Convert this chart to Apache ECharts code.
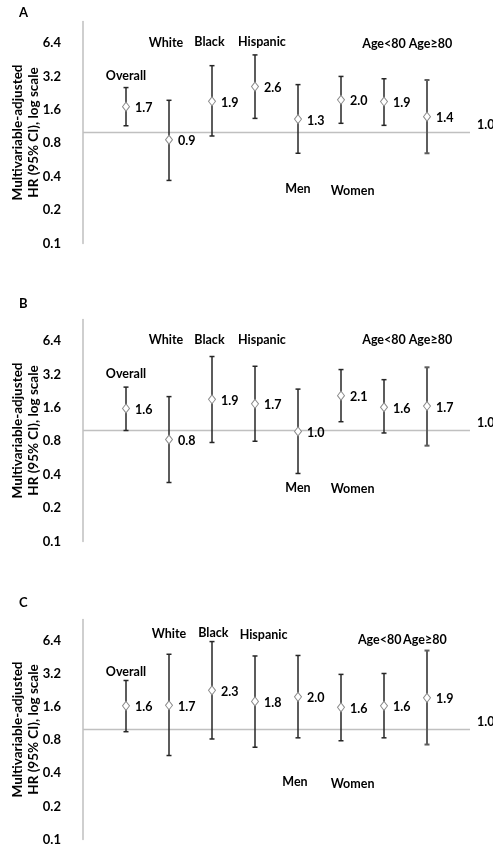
<!DOCTYPE html>
<html><head><meta charset="utf-8">
<script src="https://cdn.jsdelivr.net/npm/echarts@6/dist/echarts.min.js"></script>
<style>html,body{margin:0;padding:0;background:#fff}#c{width:493px;height:848px}</style>
</head><body><div id="c"></div>
<script>
// ---- data ----
const categories = ['Overall', 'White', 'Black', 'Hispanic', 'Men', 'Women', 'Age<80', 'Age\u226580'];
const tickLabels = ['0.1', '0.2', '0.4', '0.8', '1.6', '3.2', '6.4'];
const refValue = 1.0;

// Panel A
const hrA = [1.71, 0.86, 1.91, 2.59, 1.32, 1.97, 1.90, 1.39];
const loA = [1.15, 0.37, 0.93, 1.34, 0.65, 1.21, 1.16, 0.65];
const hiA = [2.54, 1.95, 4.00, 5.00, 2.70, 3.20, 3.05, 2.97];
// Panel B
const hrB = [1.58, 0.83, 1.91, 1.74, 0.98, 2.06, 1.62, 1.66];
const loB = [1.00, 0.34, 0.78, 0.80, 0.41, 1.20, 0.95, 0.73];
const hiB = [2.46, 2.02, 4.64, 3.79, 2.36, 3.54, 2.87, 3.71];
// Panel C
const hrC = [1.64, 1.66, 2.27, 1.80, 1.98, 1.59, 1.64, 1.94];
const loC = [0.955, 0.58, 0.82, 0.69, 0.84, 0.79, 0.84, 0.73];
const hiC = [2.79, 4.83, 6.30, 4.66, 4.71, 3.17, 3.23, 5.22];

// ---- layout (category-label placement, in HR units / category offsets) ----
const labelYA = [3.21, 6.4, 6.5, 6.5, 0.31, 0.30, 6.3, 6.3];
const labelYB = [3.26, 6.55, 6.55, 6.55, 0.305, 0.30, 6.5, 6.5];
const labelYC = [3.3, 7.34, 7.5, 7.2, 0.33, 0.32, 6.48, 6.5];
const labelDXAB = [0, -0.07, -0.06, 0.16, 0, 0.27, 0, 0.08];
const labelDXC = [0, 0, 0.03, 0.2, -0.07, 0.27, -0.1, -0.05];
const barColors = ['#262626', '#262626', '#262626', '#262626', '#262626', '#262626', '#262626', '#5e5e5e'];
const barWidths = [1.5, 1.5, 1.5, 1.5, 1.5, 1.5, 1.5, 2];

const FONT = 'Lato, "Open Sans", sans-serif';
const AXIS_MIN = 0.1, AXIS_MAX = 10;
const t = v => Math.log2(v / AXIS_MIN);

const panels = [
  {letter: 'A', hr: hrA, lo: loA, hi: hiA, labY: labelYA, labDX: labelDXAB, top: 21.5, height: 222, ly: 6},
  {letter: 'B', hr: hrB, lo: loB, hi: hiB, labY: labelYB, labDX: labelDXAB, top: 319.5, height: 222, ly: 297},
  {letter: 'C', hr: hrC, lo: loC, hi: hiC, labY: labelYC, labDX: labelDXC, top: 619.5, height: 220, ly: 596}
];

const grid = [], xAxis = [], yAxis = [], series = [], graphic = [];
panels.forEach((p, k) => {
  grid.push({left: 83, width: 387, top: p.top, height: p.height, containLabel: false, outerBoundsMode: 'none'});
  xAxis.push({type: 'value', gridIndex: k, min: 0, max: categories.length + 1, show: false});
  yAxis.push({
    type: 'value', gridIndex: k, min: 0, max: t(AXIS_MAX), interval: 1,
    axisLine: {show: true, lineStyle: {color: '#bfbfbf', width: 1.5}},
    axisTick: {show: false}, splitLine: {show: false},
    axisLabel: {
      margin: 22, color: '#000', fontFamily: FONT, fontWeight: 'bold', fontSize: 13,
      showMaxLabel: false,
      formatter: v => { const i = Math.round(v); return Math.abs(v - i) < 1e-6 && tickLabels[i] ? tickLabels[i] : ''; }
    },
    name: 'Multivariable-adjusted\nHR (95% CI), log scale',
    nameLocation: 'middle', nameRotate: 90, nameGap: 41, nameMoveOverlap: false,
    nameTextStyle: {color: '#000', fontFamily: FONT, fontWeight: 'bold', fontSize: 13.5, lineHeight: 16}
  });
  // reference line at HR = 1.0
  series.push({
    type: 'line', xAxisIndex: k, yAxisIndex: k, silent: true, symbol: 'none', z: 1,
    data: [[0, t(refValue)], [categories.length + 1, t(refValue)]],
    lineStyle: {color: '#c0c0c0', width: 1.5}
  });
  // error bars
  series.push({
    type: 'custom', xAxisIndex: k, yAxisIndex: k, silent: true, z: 2,
    data: categories.map((c, i) => [i + 1, t(p.lo[i]), t(p.hi[i])]),
    renderItem: (params, api) => {
      const x = api.value(0);
      const a = api.coord([x, api.value(1)]);
      const b = api.coord([x, api.value(2)]);
      const st = {stroke: barColors[params.dataIndex], lineWidth: barWidths[params.dataIndex]};
      const w = 2.5;
      return {type: 'group', children: [
        {type: 'line', shape: {x1: a[0], y1: a[1], x2: b[0], y2: b[1]}, style: st},
        {type: 'line', shape: {x1: a[0] - w, y1: a[1], x2: a[0] + w, y2: a[1]}, style: st},
        {type: 'line', shape: {x1: b[0] - w, y1: b[1], x2: b[0] + w, y2: b[1]}, style: st}
      ]};
    }
  });
  // point estimates
  series.push({
    type: 'scatter', xAxisIndex: k, yAxisIndex: k, silent: true, z: 3,
    data: categories.map((c, i) => [i + 1, t(p.hr[i]), p.hr[i]]),
    symbol: 'diamond', symbolSize: [7, 9],
    itemStyle: {color: '#fff', borderColor: '#8c8c8c', borderWidth: 1, opacity: 1},
    label: {
      show: true, position: 'right', distance: 5, offset: [0, 1.5],
      formatter: q => q.data[2].toFixed(1),
      color: '#000', fontFamily: FONT, fontWeight: 'bold', fontSize: 12.5
    }
  });
  // category labels
  series.push({
    type: 'custom', xAxisIndex: k, yAxisIndex: k, silent: true, z: 4, clip: false,
    data: categories.map((c, i) => [i + 1 + p.labDX[i], t(p.labY[i])]),
    renderItem: (params, api) => {
      const c = api.coord([api.value(0), api.value(1)]);
      return {type: 'text', x: c[0], y: c[1], style: {
        text: categories[params.dataIndex], align: 'center', verticalAlign: 'middle',
        fill: '#000', font: 'bold 12.5px ' + FONT
      }};
    }
  });
  // "1.0" label at right end of reference line
  series.push({
    type: 'custom', xAxisIndex: k, yAxisIndex: k, silent: true, z: 4, clip: false,
    data: [[categories.length + 1, t(refValue)]],
    renderItem: (params, api) => {
      const c = api.coord([api.value(0), api.value(1)]);
      return {type: 'text', x: c[0] + 7, y: c[1] - 8, style: {
        text: refValue.toFixed(1), align: 'left', verticalAlign: 'middle',
        fill: '#000', font: 'bold 12.5px ' + FONT
      }};
    }
  });
  graphic.push({type: 'text', left: 19, top: p.ly, style: {text: p.letter, fill: '#000', font: 'bold 13px ' + FONT}});
});

const chart = echarts.init(document.getElementById('c'), null, {renderer: 'canvas'});
chart.setOption({animation: false, backgroundColor: '#fff', grid, xAxis, yAxis, series, graphic});
</script></body></html>
